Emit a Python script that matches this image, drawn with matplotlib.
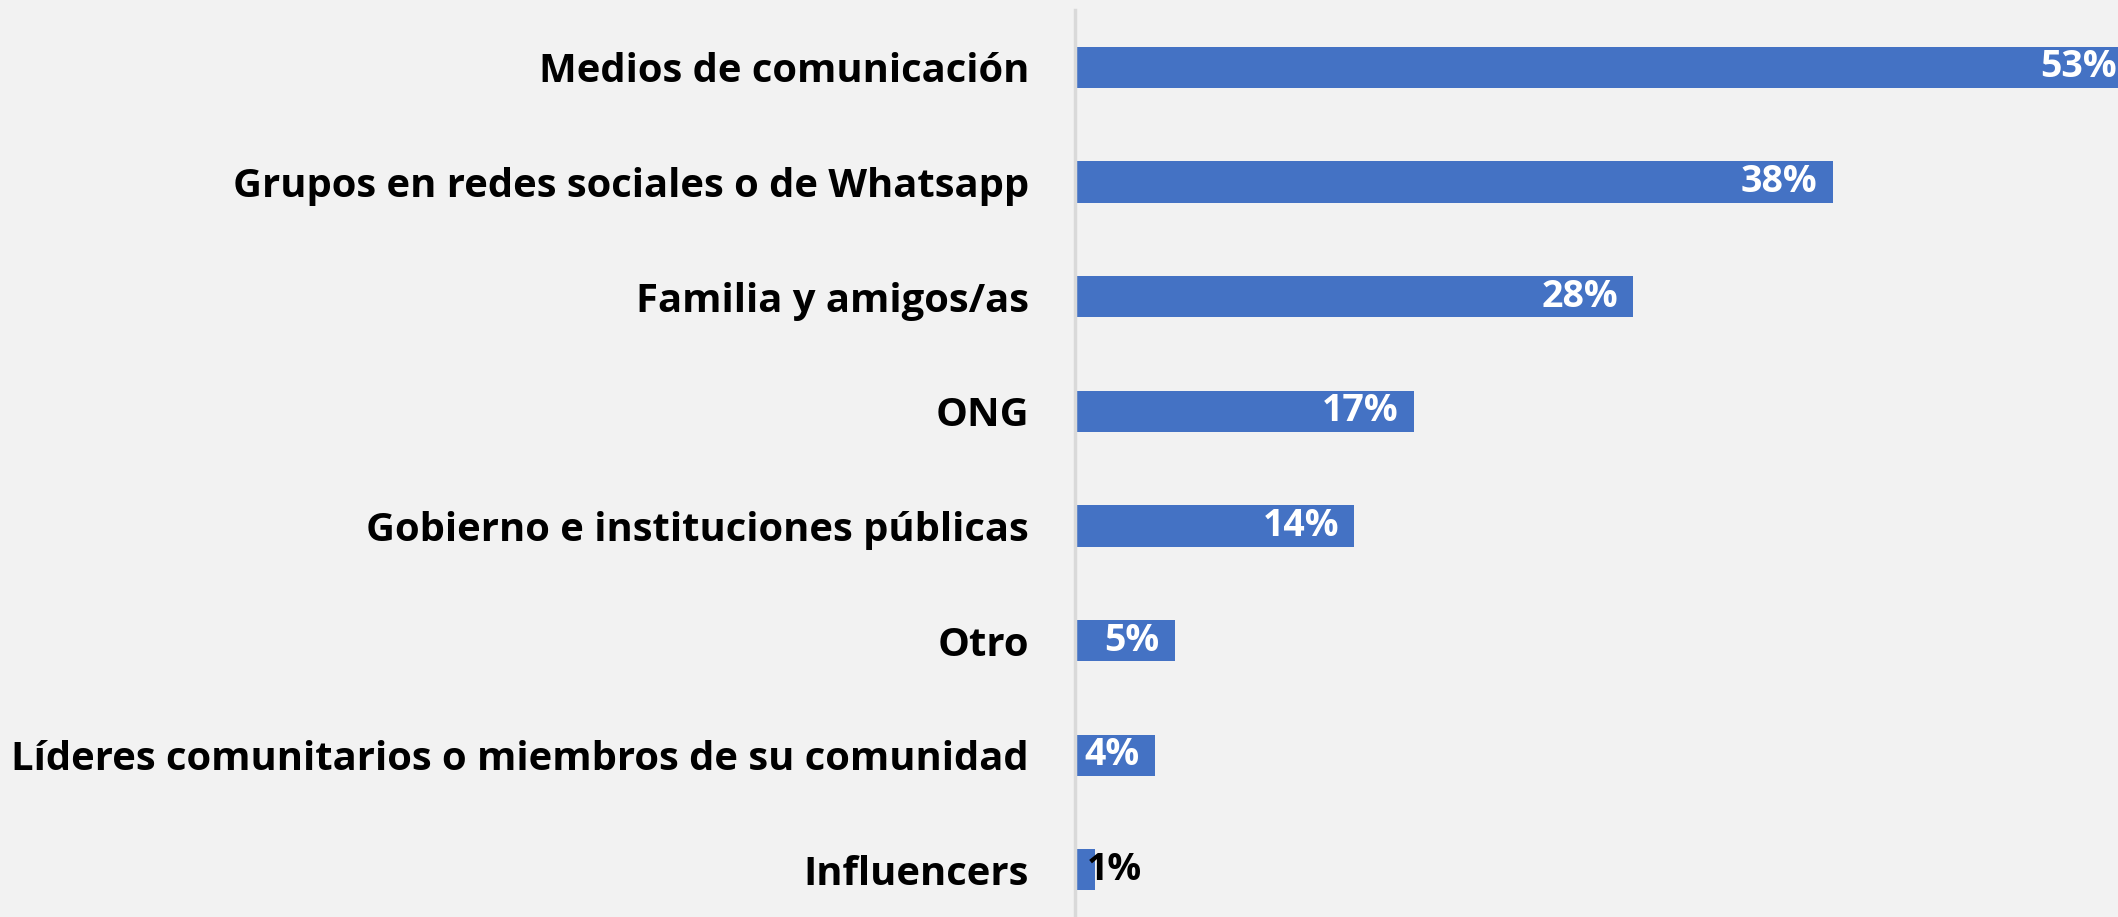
import matplotlib
matplotlib.use("Agg")
import matplotlib.pyplot as plt

categories = [
    "Medios de comunicación",
    "Grupos en redes sociales o de Whatsapp",
    "Familia y amigos/as",
    "ONG",
    "Gobierno e instituciones públicas",
    "Otro",
    "Líderes comunitarios o miembros de su comunidad",
    "Influencers",
]
values = [53, 38, 28, 17, 14, 5, 4, 1]
value_labels = ["53%", "38%", "28%", "17%", "14%", "5%", "4%", "1%"]

bg = "#f2f2f2"
bar_color = "#4472c4"
font = ["Open Sans", "DejaVu Sans"]

fig = plt.figure(figsize=(21.18, 9.17), dpi=100, facecolor=bg)
ax = fig.add_axes([0.5075, -0.011, 0.4925, 1.0])
ax.set_facecolor(bg)

ypos = list(range(len(categories)))
ax.barh(ypos, values, height=0.36, color=bar_color)

ax.set_ylim(len(categories) - 0.5, -0.5)
ax.set_xlim(0, 52.3)

for spine in ["top", "right", "bottom"]:
    ax.spines[spine].set_visible(False)
ax.spines["left"].set_color("#d9d9d9")
ax.spines["left"].set_linewidth(2.5)
ax.set_xticks([])
ax.set_yticks(ypos)
ax.set_yticklabels(categories, fontsize=28.8, fontweight="bold", family=font)
ax.tick_params(axis="y", length=0, pad=33)

for y, v, lab in zip(ypos, values, value_labels):
    if v < 3:
        ax.annotate(lab, (v, y), xytext=(-6, 0), textcoords="offset points",
                    ha="left", va="center", color="black", fontsize=27,
                    fontweight="bold", family=font, annotation_clip=False)
    else:
        ax.annotate(lab, (v, y), xytext=(-11, 0), textcoords="offset points",
                    ha="right", va="center", color="white", fontsize=27,
                    fontweight="bold", family=font, annotation_clip=False)

fig.savefig("out.png", dpi=100, facecolor=bg)
